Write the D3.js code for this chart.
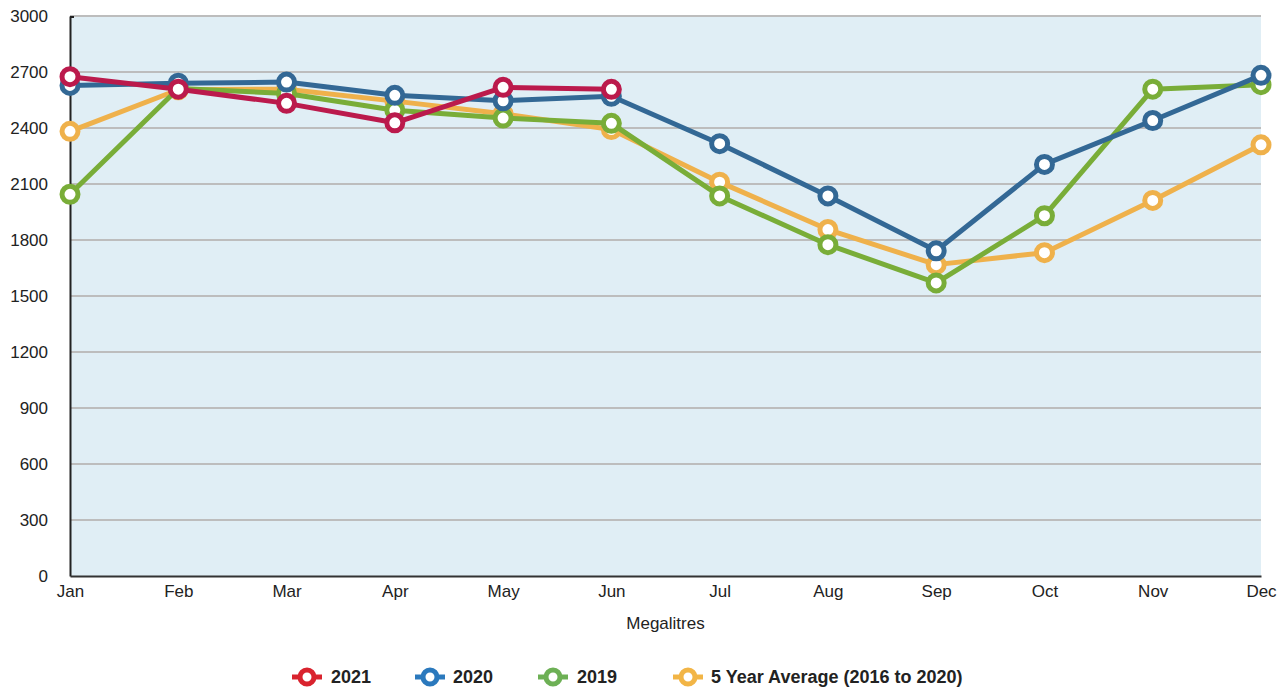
<!DOCTYPE html>
<html>
<head>
<meta charset="utf-8">
<script src="https://cdn.jsdelivr.net/npm/d3@7"></script>
<style>
    body { margin: 0; background: #fff; font-family: "Liberation Sans", Arial, Helvetica, sans-serif; }
    #chart { width: 1284px; height: 690px; }
    .tick text { font-size: 17px; fill: #222; font-family: "Liberation Sans", Arial, sans-serif; }
</style>
</head>
<body>
<div id="chart"></div>
<script>
// Chart data
const months = ["Jan", "Feb", "Mar", "Apr", "May", "Jun", "Jul", "Aug", "Sep", "Oct", "Nov", "Dec"];
const yTicks = [0, 300, 600, 900, 1200, 1500, 1800, 2100, 2400, 2700, 3000];

const values2021 = [2675, 2608, 2532, 2428, 2618, 2607];
const values2020 = [2628, 2640, 2646, 2575, 2546, 2570, 2316, 2036, 1742, 2205, 2440, 2682];
const values2019 = [2045, 2612, 2585, 2495, 2453, 2425, 2036, 1775, 1570, 1930, 2608, 2632];
const valuesAvg = [2382, 2605, 2608, 2544, 2476, 2392, 2110, 1856, 1668, 1732, 2012, 2310];

const series = [
    {name: "5 Year Average (2016 to 2020)", values: valuesAvg, color: "#efb14b", legendColor: "#f2b546"},
    {name: "2019", values: values2019, color: "#79ad38", legendColor: "#6db055"},
    {name: "2020", values: values2020, color: "#336895", legendColor: "#2b79bd"},
    {name: "2021", values: values2021, color: "#bb1a4c", legendColor: "#d9232e"}
];

const margin = {top: 16, right: 23, bottom: 114, left: 70};
const width = 1284 - margin.left - margin.right;
const height = 690 - margin.top - margin.bottom;

const svg = d3.select("#chart").append("svg")
    .attr("width", 1284)
    .attr("height", 690)
    .append("g")
    .attr("transform", `translate(${margin.left}, ${margin.top})`);

const x = d3.scalePoint().domain(months).range([0, width]);
const y = d3.scaleLinear().domain([0, 3000]).range([height, 0]);

// Plot background
svg.append("rect")
    .attr("width", width)
    .attr("height", height)
    .attr("fill", "#e0eef5");

// Grid lines
svg.append("g")
    .selectAll("line")
    .data(yTicks.filter(d => d > 0))
    .enter().append("line")
    .attr("x1", 0)
    .attr("x2", width)
    .attr("y1", d => y(d))
    .attr("y2", d => y(d))
    .attr("stroke", "#bdbdbd")
    .attr("stroke-width", 2);

// Y axis
const yAxis = svg.append("g")
    .call(d3.axisLeft(y).tickValues(yTicks).tickFormat(d3.format("d")).tickSize(0).tickPadding(22));
yAxis.select(".domain").attr("stroke", "#222").attr("stroke-width", 2);
yAxis.selectAll(".tick text").attr("dy", "0.35em");
yAxis.append("line").attr("x1", 0).attr("x2", 4).attr("y1", 1).attr("y2", 1)
    .attr("stroke", "#222").attr("stroke-width", 2);

// X axis
const xAxis = svg.append("g")
    .attr("transform", `translate(0, ${height})`)
    .call(d3.axisBottom(x).tickSize(0).tickPadding(9));
xAxis.select(".domain").attr("stroke", "#333").attr("stroke-width", 2);

svg.append("text")
    .attr("x", width / 2)
    .attr("y", height + 53)
    .attr("text-anchor", "middle")
    .style("font-size", "17px")
    .attr("fill", "#222")
    .text("Megalitres");

// Lines and markers
const line = d3.line()
    .x((d, i) => x(months[i]))
    .y(d => y(d));

series.forEach(s => {
    const g = svg.append("g");
    g.append("path")
        .datum(s.values)
        .attr("d", line)
        .attr("fill", "none")
        .attr("stroke", s.color)
        .attr("stroke-width", 5)
        .attr("stroke-linejoin", "round");

    g.selectAll("circle")
        .data(s.values)
        .enter().append("circle")
        .attr("cx", (d, i) => x(months[i]))
        .attr("cy", d => y(d))
        .attr("r", 8)
        .attr("fill", "#fff")
        .attr("stroke", s.color)
        .attr("stroke-width", 5);
});

// Legend
const legendItems = [
    {series: series[3], x: 307, tx: 331},
    {series: series[2], x: 430, tx: 453},
    {series: series[1], x: 553, tx: 577},
    {series: series[0], x: 688, tx: 711}
];

const legend = d3.select("#chart svg").append("g").attr("class", "legend");
legendItems.forEach(item => {
    const g = legend.append("g").attr("transform", `translate(0, 677)`);
    g.append("line")
        .attr("x1", item.x - 15)
        .attr("x2", item.x + 15)
        .attr("stroke", item.series.legendColor)
        .attr("stroke-width", 5);
    g.append("circle")
        .attr("cx", item.x)
        .attr("r", 7)
        .attr("fill", "#fff")
        .attr("stroke", item.series.legendColor)
        .attr("stroke-width", 5);
    g.append("text")
        .attr("x", item.tx)
        .attr("dy", "0.35em")
        .style("font-size", "18px")
        .style("font-weight", "bold")
        .attr("fill", "#222")
        .text(item.series.name);
});
</script>
</body>
</html>
